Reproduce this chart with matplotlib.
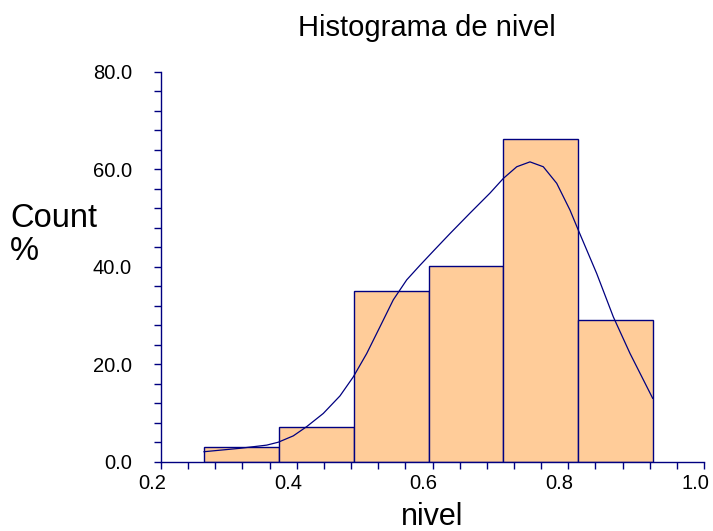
import numpy as np
import matplotlib.pyplot as plt
import matplotlib.transforms as mtransforms
from matplotlib.ticker import MultipleLocator, FormatStrFormatter

plt.rcParams['font.family'] = ['Liberation Sans', 'DejaVu Sans']

# histogram bins (left edges) and heights
bin_left = [0.2634, 0.3737, 0.4839, 0.5942, 0.7044, 0.8147]
bin_width = 0.1102
count_pct = [3.1, 7.2, 35.1, 40.1, 66.1, 29.1]

# density curve, read point by point
curve_x = [0.2634, 0.3164, 0.3557, 0.3728, 0.3949, 0.4147, 0.4391, 0.4637,
           0.4833, 0.5031, 0.5227, 0.5422, 0.5620, 0.5816, 0.6012, 0.6258,
           0.6553, 0.6847, 0.7043, 0.7241, 0.7436, 0.7632, 0.7830, 0.8026,
           0.8148, 0.8419, 0.8664, 0.8910, 0.9106, 0.9244]
curve_y = [2.05, 2.75, 3.4, 4.0, 5.3, 7.2, 9.9, 13.5,
           17.4, 22.2, 27.7, 33.2, 37.3, 40.3, 43.2, 46.8,
           51.0, 55.1, 58.1, 60.5, 61.5, 60.5, 57.1, 51.6,
           47.5, 38.6, 29.7, 22.2, 16.8, 13.0]

navy = '#000080'

fig = plt.figure(figsize=(7.13, 5.31), dpi=100)
ax = fig.add_axes([0.2258, 0.1305, 0.7616, 0.7345])

ax.bar(bin_left, count_pct, width=bin_width, align='edge',
       color='#FFCC99', edgecolor=navy, linewidth=1.0)
ax.plot(curve_x, curve_y, color=navy, linewidth=0.9)

ax.set_xlim(0.2, 1.0)
ax.set_ylim(0, 80)
ax.xaxis.set_major_locator(MultipleLocator(0.2))
ax.xaxis.set_minor_locator(MultipleLocator(0.04))
ax.yaxis.set_major_locator(MultipleLocator(20))
ax.yaxis.set_minor_locator(MultipleLocator(4))
ax.xaxis.set_major_formatter(FormatStrFormatter('%.1f'))
ax.yaxis.set_major_formatter(FormatStrFormatter('%.1f'))

for s in ['top', 'right']:
    ax.spines[s].set_visible(False)
for s in ['left', 'bottom']:
    ax.spines[s].set_color(navy)
    ax.spines[s].set_linewidth(1.0)

ax.tick_params(which='both', direction='out', color=navy, width=1.0,
               length=5, labelsize=14.5, labelcolor='black')
ax.tick_params(axis='y', which='major', pad=16)
ax.tick_params(axis='x', which='major', pad=4)

# x tick labels sit a little left of their ticks in the original
offset = mtransforms.ScaledTranslation(-9 / 100, 0, fig.dpi_scale_trans)
for label in ax.xaxis.get_majorticklabels():
    label.set_transform(label.get_transform() + offset)

ax.set_xlabel('nivel', fontsize=22, labelpad=6)
fig.text(0.599, 0.932, 'Histograma de nivel', ha='center', va='baseline',
         fontsize=21)
fig.text(0.014, 0.558, 'Count\n%', ha='left', va='center', fontsize=23.5,
         linespacing=1.1)

fig.savefig('out.png', dpi=100)
